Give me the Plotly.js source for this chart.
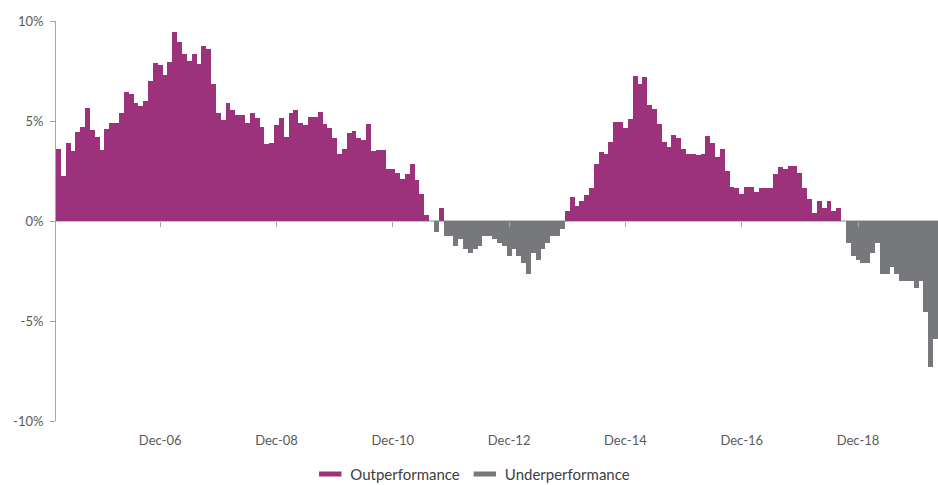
<!DOCTYPE html>
<html>
<head>
<meta charset="utf-8">
<script src="https://cdn.plot.ly/plotly-3.0.1.min.js"></script>
<style>
  html, body { margin: 0; padding: 0; background: #ffffff; }
  #chart { width: 938px; height: 485px; }
</style>
</head>
<body>
<div id="chart"></div>
<script>
// Monthly relative performance (%), Mar-05 .. Apr-20
const startYear = 2005;
const startMonth = 2; // March (0-based)
const monthNames = ['Jan','Feb','Mar','Apr','May','Jun','Jul','Aug','Sep','Oct','Nov','Dec'];

const relativePerf = [
  3.6, 2.25, 3.9, 3.5, 4.45, 4.7, 5.65, 4.55, 4.2, 3.55,
  4.6, 4.9, 4.9, 5.4, 6.45, 6.35, 5.9, 5.75, 6.0, 7.0,
  7.9, 7.8, 7.3, 7.95, 9.45, 8.95, 8.35, 8.0, 8.35, 7.85,
  8.75, 8.6, 6.85, 5.4, 5.05, 5.9, 5.55, 5.3, 5.3, 4.9,
  5.4, 5.15, 4.7, 3.85, 3.9, 4.8, 5.15, 4.2, 5.4, 5.55,
  4.9, 4.8, 5.2, 5.2, 5.45, 4.85, 4.65, 4.15, 3.35, 3.6,
  4.4, 4.5, 4.15, 4.05, 4.85, 3.5, 3.55, 3.55, 2.6, 2.6,
  2.4, 2.1, 2.35, 2.85, 2.05, 1.35, 0.3, 0, -0.55, 0.65,
  -0.75, -0.75, -1.25, -0.9, -1.4, -1.6, -1.4, -1.25, -0.75, -0.75,
  -0.9, -1.1, -1.25, -1.75, -1.4, -1.75, -2.1, -2.65, -1.6, -1.95,
  -1.4, -1.1, -0.75, -0.75, -0.4, 0.5, 1.2, 0.75, 1.0, 1.3,
  1.65, 2.85, 3.45, 3.35, 3.95, 4.95, 4.95, 4.65, 5.1, 7.25,
  6.85, 7.2, 5.8, 5.6, 4.85, 3.95, 3.7, 4.3, 4.15, 3.6,
  3.35, 3.35, 3.3, 3.35, 4.25, 3.9, 3.2, 3.6, 2.5, 1.7,
  1.65, 1.35, 1.7, 1.7, 1.45, 1.65, 1.65, 1.65, 2.35, 2.7,
  2.6, 2.75, 2.75, 2.4, 1.65, 1.1, 0.4, 1.0, 0.65, 1.0,
  0.5, 0.65, 0, -1.1, -1.75, -1.95, -2.1, -2.1, -1.6, -1.1,
  -2.65, -2.65, -2.3, -2.65, -3.0, -3.0, -3.0, -3.35, -3.0, -4.55,
  -7.3, -5.9
];

const tickLabels = ['Dec-06','Dec-08','Dec-10','Dec-12','Dec-14','Dec-16','Dec-18'];
const yTickVals = [-10, -5, 0, 5, 10];
const yTickText = ['-10%', '-5%', '0%', '5%', '10%'];
const seriesNames = ['Outperformance', 'Underperformance'];
const seriesColors = ['#9b327b', '#77787b'];

// month category labels
const months = relativePerf.map((_, i) => {
  const m = (startMonth + i) % 12;
  const y = startYear + Math.floor((startMonth + i) / 12);
  return monthNames[m] + '-' + String(y % 100).padStart(2, '0');
});

const outVals = relativePerf.map(v => (v > 0 ? v : null));
const underVals = relativePerf.map(v => (v < 0 ? v : null));
const tickIdx = tickLabels.map(t => months.indexOf(t));

const traces = [
  { type: 'bar', x: months, y: outVals, name: seriesNames[0],
    marker: { color: seriesColors[0], line: { width: 0 } },
    showlegend: false, hoverinfo: 'x+y' },
  { type: 'bar', x: months, y: underVals, name: seriesNames[1],
    marker: { color: seriesColors[1], line: { width: 0 } },
    showlegend: false, hoverinfo: 'x+y' },
  // legend swatches (Excel-style short line)
  { type: 'scatter', mode: 'markers', x: [null], y: [null], name: seriesNames[0],
    marker: { symbol: 'line-ew-open', size: 16, color: seriesColors[0],
              line: { color: seriesColors[0], width: 5 } } },
  { type: 'scatter', mode: 'markers', x: [null], y: [null], name: seriesNames[1],
    marker: { symbol: 'line-ew-open', size: 16, color: seriesColors[1],
              line: { color: seriesColors[1], width: 5 } } },
  // carrier for the tick-mark axis at zero
  { type: 'scatter', mode: 'markers', x: [], y: [], xaxis: 'x2', yaxis: 'y',
    showlegend: false, hoverinfo: 'skip' }
];

const layout = {
  width: 938, height: 485,
  margin: { l: 56, r: 0, t: 21, b: 64 },
  paper_bgcolor: '#ffffff', plot_bgcolor: '#ffffff',
  font: { family: 'Lato, "Open Sans", sans-serif', color: '#595959', size: 13 },
  barmode: 'relative', bargap: 0,
  showlegend: true,
  legend: { orientation: 'h', xref: 'container', yref: 'container',
    x: 0.504, xanchor: 'center', y: 0.022, yanchor: 'middle',
    font: { size: 15, color: '#404040' }, itemclick: false, itemdoubleclick: false,
    tracegroupgap: 0, itemwidth: 30 },
  xaxis: {
    type: 'category', range: [-0.5, relativePerf.length - 0.5],
    tickmode: 'array', tickvals: tickLabels, ticktext: tickLabels,
    showgrid: false, zeroline: false, showline: false, ticks: '',
    ticklabelstandoff: 10, tickfont: { size: 13, color: '#595959' }, fixedrange: true
  },
  xaxis2: {
    overlaying: 'x', anchor: 'free', position: 0.5, type: 'linear',
    range: [-0.5, relativePerf.length - 0.5],
    tickmode: 'array', tickvals: tickIdx, ticks: 'outside', ticklen: 5, tickwidth: 1,
    tickcolor: '#a6a6a6', showticklabels: false, showgrid: false, zeroline: false,
    showline: false, fixedrange: true
  },
  yaxis: {
    range: [-10, 10], tickmode: 'array', tickvals: yTickVals, ticktext: yTickText,
    showgrid: false, zeroline: true, zerolinecolor: '#c4c4c4', zerolinewidth: 2,
    showline: true, linecolor: '#a6a6a6', linewidth: 1,
    ticks: 'outside', ticklen: 5, tickcolor: '#a6a6a6', tickwidth: 1,
    ticklabelstandoff: 4, tickfont: { size: 13, color: '#595959' }, fixedrange: true
  }
};

Plotly.newPlot('chart', traces, layout, { displayModeBar: false, staticPlot: true });
</script>
</body>
</html>
